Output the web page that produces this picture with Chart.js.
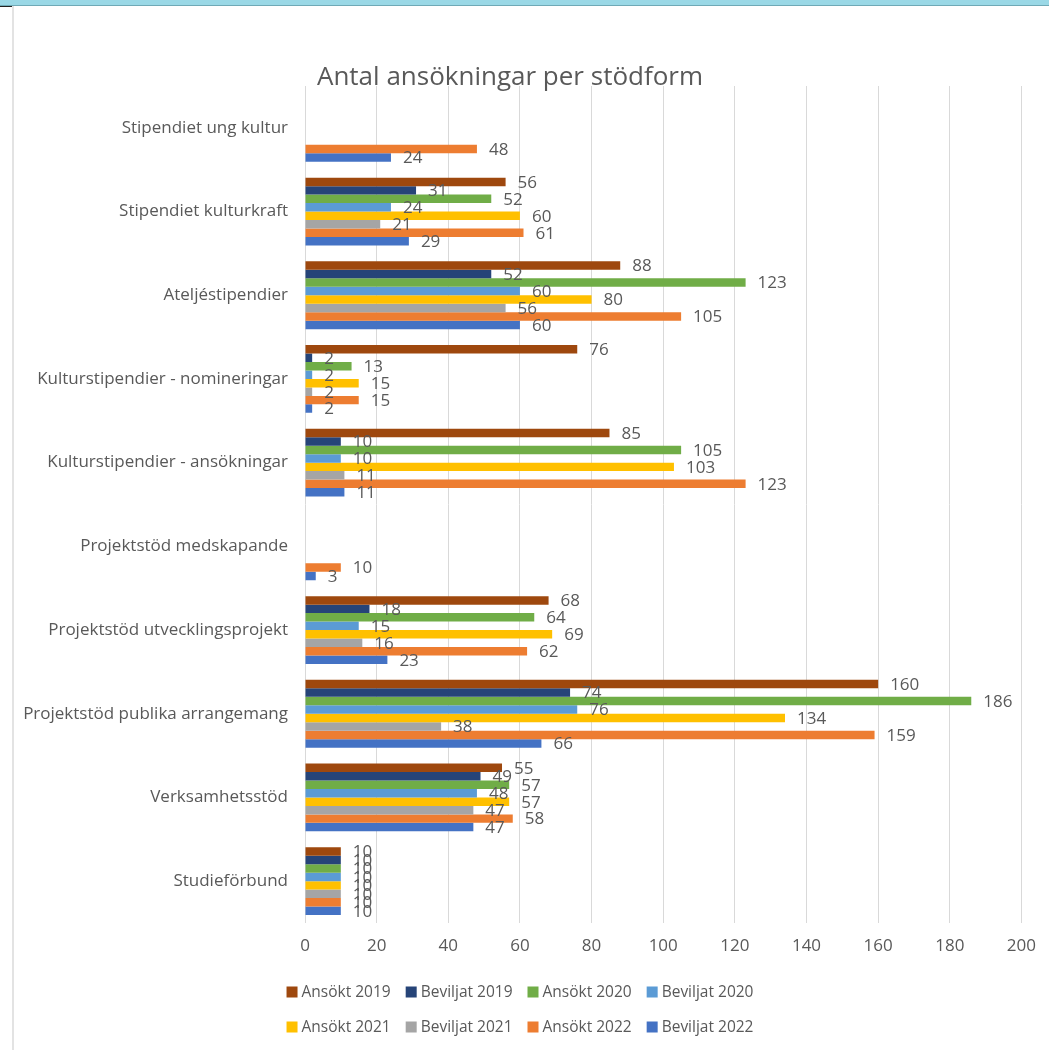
<!DOCTYPE html>
<html>
<head>
<meta charset="utf-8">
<script src="https://cdn.jsdelivr.net/npm/chart.js@4.4.1/dist/chart.umd.min.js"></script>
<style>
  html, body { margin: 0; padding: 0; background: #fff; }
  body { width: 1049px; height: 1050px; position: relative; overflow: hidden; }
  #topStrip { position: absolute; left: 0; top: 0; width: 1049px; height: 5px; background: #9ad8e6; border-bottom: 1px solid #6fa9b6; }
  #leftEdge { position: absolute; left: 0; top: 6px; width: 12px; height: 1044px; background: #fff; border-top: 1px solid #222; }
  #frame { position: absolute; left: 12px; top: 6px; width: 1037px; height: 1044px; border-left: 2px solid #e3e3e3; }
  #chartBox { position: absolute; left: 14px; top: 6px; width: 1035px; height: 1044px; }
</style>
</head>
<body>
<div id="topStrip"></div>
<div id="leftEdge"></div>
<div id="frame"></div>
<div id="chartBox"><canvas id="stodChart"></canvas></div>
<script>
const categories = [
    "Stipendiet ung kultur",
    "Stipendiet kulturkraft",
    "Ateljéstipendier",
    "Kulturstipendier - nomineringar",
    "Kulturstipendier - ansökningar",
    "Projektstöd medskapande",
    "Projektstöd utvecklingsprojekt",
    "Projektstöd publika arrangemang",
    "Verksamhetsstöd",
    "Studieförbund"
];

const ansokt2019   = [null, 56, 88, 76, 85, null, 68, 160, 55, 10];
const beviljat2019 = [null, 31, 52, 2, 10, null, 18, 74, 49, 10];
const ansokt2020   = [null, 52, 123, 13, 105, null, 64, 186, 57, 10];
const beviljat2020 = [null, 24, 60, 2, 10, null, 15, 76, 48, 10];
const ansokt2021   = [null, 60, 80, 15, 103, null, 69, 134, 57, 10];
const beviljat2021 = [null, 21, 56, 2, 11, null, 16, 38, 47, 10];
const ansokt2022   = [48, 61, 105, 15, 123, 10, 62, 159, 58, 10];
const beviljat2022 = [24, 29, 60, 2, 11, 3, 23, 66, 47, 10];

const xTicks = [0, 20, 40, 60, 80, 100, 120, 140, 160, 180, 200];

const chartTitle = "Antal ansökningar per stödform";
const fontFamily = "'Open Sans', 'Noto Sans', sans-serif";
const textColor = "#595959";

const series = [
    { label: "Ansökt 2019", data: ansokt2019, color: "#9e480e" },
    { label: "Beviljat 2019", data: beviljat2019, color: "#264478" },
    { label: "Ansökt 2020", data: ansokt2020, color: "#70ad47" },
    { label: "Beviljat 2020", data: beviljat2020, color: "#5b9bd5" },
    { label: "Ansökt 2021", data: ansokt2021, color: "#ffc000" },
    { label: "Beviljat 2021", data: beviljat2021, color: "#a5a5a5" },
    { label: "Ansökt 2022", data: ansokt2022, color: "#ed7d31" },
    { label: "Beviljat 2022", data: beviljat2022, color: "#4472c4" }
];

// Värden till höger om varje stapel
const valueLabels = {
    id: "valueLabels",
    afterDatasetsDraw(chart) {
        const ctx = chart.ctx;
        ctx.save();
        ctx.font = "17px " + fontFamily;
        ctx.fillStyle = textColor;
        ctx.textAlign = "left";
        ctx.textBaseline = "middle";
        chart.data.datasets.forEach((ds, i) => {
            const meta = chart.getDatasetMeta(i);
            meta.data.forEach((bar, j) => {
                const v = ds.data[j];
                if (v === null || v === undefined) return;
                ctx.fillText(String(v), bar.x + 12, bar.y + 1);
            });
        });
        ctx.restore();
    }
};

// Titel och förklaring ritas för hand
const titleAndLegend = {
    id: "titleAndLegend",
    afterDraw(chart) {
        const ctx = chart.ctx;
        ctx.save();
        ctx.fillStyle = textColor;
        ctx.font = "26px " + fontFamily;
        ctx.textAlign = "center";
        ctx.textBaseline = "middle";
        ctx.fillText(chartTitle, 496, 72);

        ctx.font = "15.5px " + fontFamily;
        ctx.textAlign = "left";
        const rows = [series.slice(0, 4), series.slice(4, 8)];
        const rowY = [986, 1021];
        const box = 11, gap = 4, spacing = 15;
        rows.forEach((row, r) => {
            const widths = row.map(s => box + gap + ctx.measureText(s.label).width);
            const total = widths.reduce((a, b) => a + b, 0) + spacing * (row.length - 1);
            let x = 506 - total / 2;
            row.forEach((s, k) => {
                ctx.fillStyle = s.color;
                ctx.fillRect(x, rowY[r] - box / 2, box, box);
                ctx.fillStyle = textColor;
                ctx.fillText(s.label, x + box + gap, rowY[r] + 1);
                x += widths[k] + spacing;
            });
        });
        ctx.restore();
    }
};

new Chart(document.getElementById("stodChart").getContext("2d"), {
    type: "bar",
    data: {
        labels: categories,
        datasets: series.map(s => ({
            label: s.label,
            data: s.data,
            backgroundColor: s.color,
            borderWidth: 0,
            barPercentage: 1.0,
            categoryPercentage: 0.81,
        })),
    },
    options: {
        indexAxis: "y",
        responsive: true,
        maintainAspectRatio: false,
        animation: false,
        layout: {
            padding: { top: 80, right: 24, bottom: 87, left: 0 },
        },
        plugins: {
            legend: { display: false },
            title: { display: false },
            tooltip: { enabled: false },
        },
        scales: {
            x: {
                min: 0,
                max: 200,
                afterBuildTicks: (scale) => {
                    scale.ticks = xTicks.map(v => ({ value: v }));
                },
                afterFit: (scale) => { scale.height = 40; },
                grid: { color: "#d9d9d9", lineWidth: 1, drawTicks: false },
                border: { display: false },
                ticks: {
                    padding: 13,
                    color: textColor,
                    font: { family: fontFamily, size: 17 },
                },
            },
            y: {
                afterFit: (scale) => { scale.width = 291; },
                grid: { display: false, drawTicks: false },
                border: { display: false },
                ticks: {
                    padding: 17,
                    color: textColor,
                    font: { family: fontFamily, size: 17 },
                },
            },
        },
    },
    plugins: [valueLabels, titleAndLegend],
});
</script>
</body>
</html>
